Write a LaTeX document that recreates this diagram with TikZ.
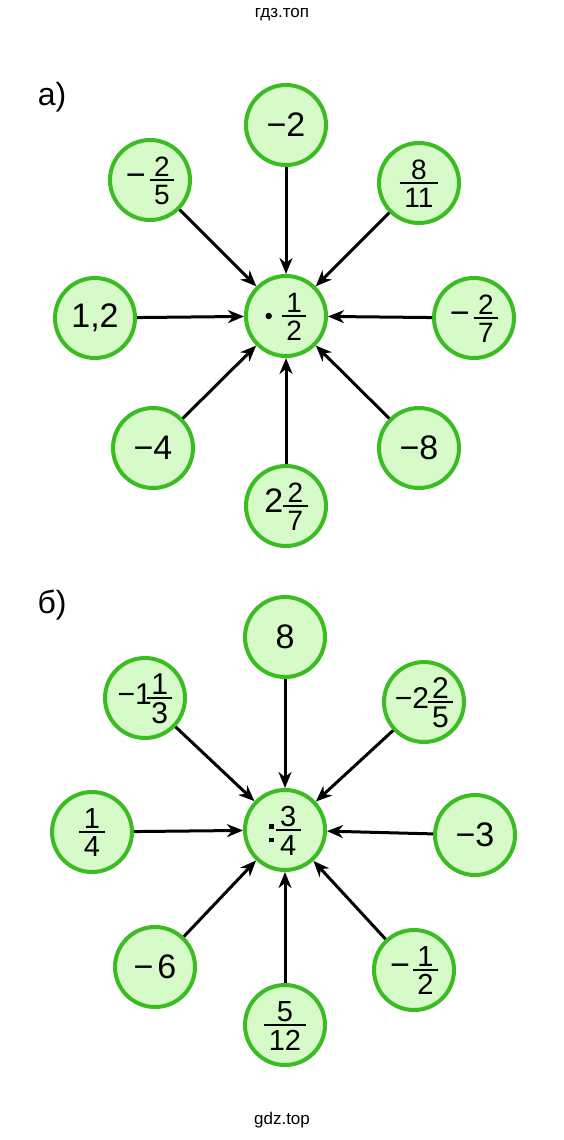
\documentclass[tikz,border=0pt]{standalone}
\usepackage{fontspec}
\setmainfont{Liberation Sans}
\usetikzlibrary{arrows.meta}
\definecolor{ringgreen}{RGB}{58,188,34}
\definecolor{fillgreen}{RGB}{214,250,200}
% \fr[size]{num}{den}: stacked fraction with text digits
\newcommand\fr[3][28]{\ensuremath{\vcenter{\fontsize{#1}{#1}\selectfont\offinterlineskip
  \halign{\hfil\kern4.5pt##\kern4.5pt\hfil\cr
  \vrule height\dimexpr #1pt*74/100\relax depth0pt width0pt #2\cr
  \noalign{\kern2.5pt\hrule height2pt\kern2.5pt}
  \vrule height\dimexpr #1pt*74/100\relax depth0pt width0pt #3\cr}}}}
\newcommand\mdot{\ensuremath{\vcenter{\hbox{\tikz\fill (0,0) circle (3.2pt);}}}\kern10pt}
\newcommand\mcolon{\raisebox{-3pt}{\ensuremath{\vcenter{\offinterlineskip
  \hbox{\vrule width4.5pt height4.5pt depth0pt}\kern9pt
  \hbox{\vrule width4.5pt height4.5pt depth0pt}}}}\kern2pt}
\begin{document}
\begin{tikzpicture}[x=1pt,y=-1pt,
  num/.style={circle, draw=ringgreen, fill=fillgreen, line width=4pt,
    minimum size=80pt, inner sep=0pt, font=\fontsize{34}{37}\selectfont},
  mixed/.style={font=\fontsize{30}{32}\selectfont},
  arr/.style={line width=3pt, -{Stealth[length=16pt,width=13pt,inset=5pt]}},
  lbl/.style={font=\fontsize{32}{34}\selectfont, inner sep=0pt}]
\useasboundingbox (0,0) rectangle (564,1140);
\node[font=\fontsize{17}{19}\selectfont] (hdr) at (282,15) {гдз.топ};
\node[font=\fontsize{17}{19}\selectfont] (ftr) at (282,1120) {gdz.top};
% part a
\node[lbl] (la) at (52,97) {а)};
\node[num] (ac) at (286,316) {\mdot\fr{1}{2}};
\node[num] (a1) at (286,125) {−2};
\node[num] (a2) at (150,180) {−\kern4pt\fr{2}{5}};
\node[num] (a3) at (419,183) {\fr{8}{11}};
\node[num] (a4) at (95,318) {1,2};
\node[num] (a5) at (474,318) {−\kern4pt\fr{2}{7}};
\node[num] (a6) at (153,448) {−4};
\node[num] (a7) at (419,448) {−8};
\node[num] (a8) at (286,506) {2\fr{2}{7}};
\foreach \n in {a1,a2,a3,a4,a5,a6,a7,a8} \draw[arr] (\n) -- (ac);
% part b
\node[lbl] (lb) at (52,605) {б)};
\node[num] (bc) at (285,830) {\mcolon\fr[29]{3}{4}};
\node[num] (b1) at (285,637) {8};
\node[num, mixed] (b2) at (145,698) {−1\kern-5pt\fr[30]{1}{3}};
\node[num, mixed] (b3) at (424,702) {−2\kern-1.5pt\fr[30]{2}{5}};
\node[num] (b4) at (92,832) {\fr[29]{1}{4}};
\node[num] (b5) at (475,835) {−3};
\node[num] (b6) at (155,967) {−\kern4pt6};
\node[num] (b7) at (414,970) {−\kern3pt\fr[29]{1}{2}};
\node[num] (b8) at (285,1025) {\fr[29]{5}{12}};
\foreach \n in {b1,b2,b3,b4,b5,b6,b7,b8} \draw[arr] (\n) -- (bc);
\end{tikzpicture}
\end{document}
